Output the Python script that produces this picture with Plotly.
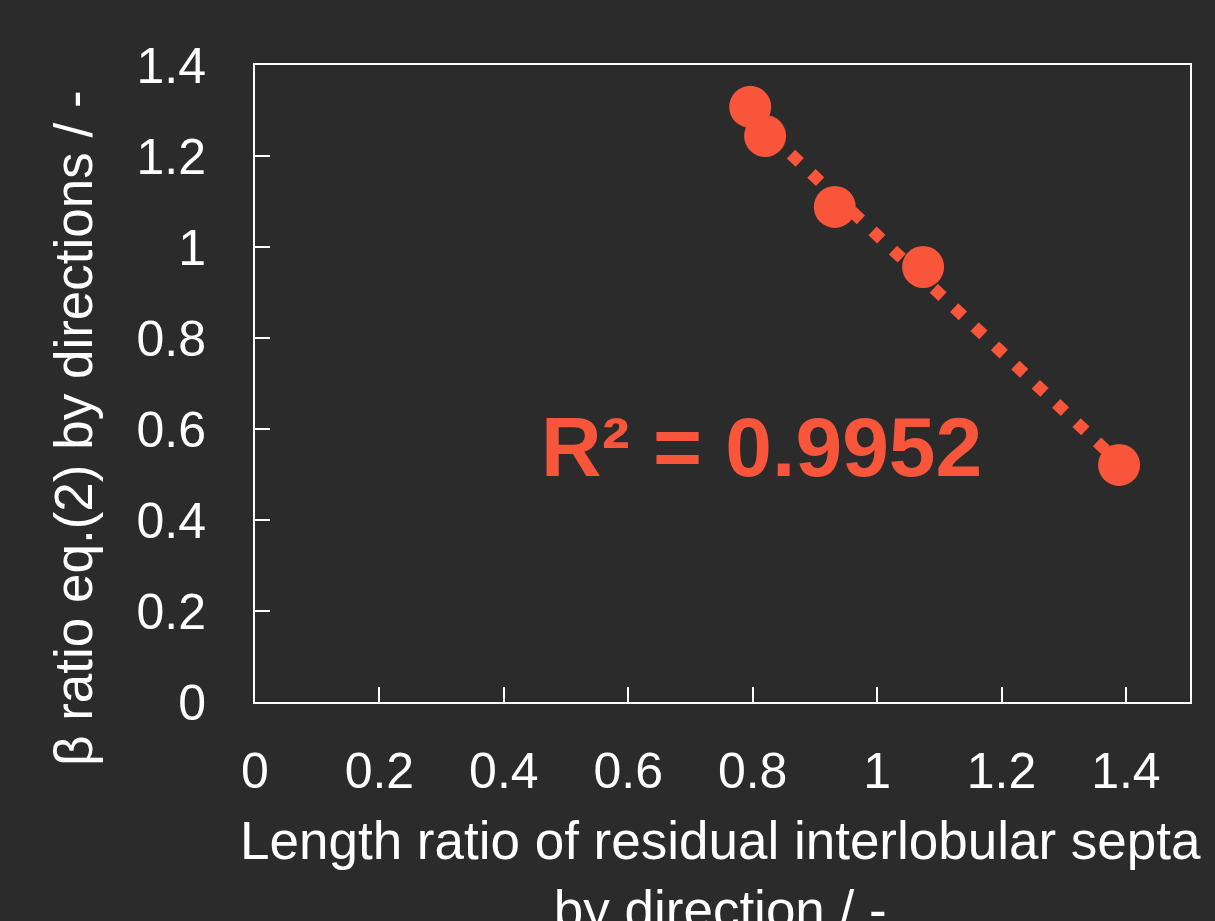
import numpy as np
import plotly.graph_objects as go

# Data
length_ratio = [0.796, 0.820, 0.932, 1.074, 1.389]
beta_ratio = [1.308, 1.244, 1.088, 0.956, 0.521]
r2_label = "R² = 0.9952"
x_ticks = [0, 0.2, 0.4, 0.6, 0.8, 1, 1.2, 1.4]
y_ticks = [0, 0.2, 0.4, 0.6, 0.8, 1, 1.2, 1.4]
x_title = "Length ratio of residual interlobular septa<br>by direction / -"
y_title = "β ratio eq.(2) by directions / -"

color = "#f9553a"
bg = "#2b2b2b"
font_family = "Liberation Sans, Arial, sans-serif"

W, H = 1215, 921
ML, MR, MT, MB = 255, 25, 65, 219
pw = W - ML - MR
ph = H - MT - MB


def px_to_paper_x(px):
    return (px - ML) / pw


def px_to_paper_y(py):
    return (H - MB - py) / ph


slope, intercept = np.polyfit(length_ratio, beta_ratio, 1)
trend_x = [min(length_ratio), max(length_ratio)]
trend_y = [slope * v + intercept for v in trend_x]

fig = go.Figure()
fig.add_trace(go.Scatter(x=trend_x, y=trend_y, mode="lines",
                         line=dict(color=color, width=12, dash="12px,16px"),
                         hoverinfo="skip", showlegend=False))
fig.add_trace(go.Scatter(x=length_ratio, y=beta_ratio, mode="markers",
                         marker=dict(color=color, size=42, line=dict(width=0)),
                         showlegend=False))

axis_common = dict(showgrid=False, zeroline=False, showline=True, linecolor="white",
                   linewidth=2, mirror=True, ticks="inside", ticklen=15, tickwidth=2,
                   tickcolor="white", tickfont=dict(size=50))

fig.update_layout(
    width=W, height=H,
    paper_bgcolor=bg, plot_bgcolor=bg,
    margin=dict(l=ML, r=MR, t=MT, b=MB),
    font=dict(family=font_family, color="white", size=48),
    xaxis=dict(range=[0, 1.503], tickvals=x_ticks, ticktext=[f"{v:g}" for v in x_ticks],
               ticklabelstandoff=24, **axis_common),
    yaxis=dict(range=[0, 1.4], tickvals=y_ticks, ticktext=[f"{v:g}" for v in y_ticks],
               ticklabelstandoff=37, **axis_common),
    annotations=[
        dict(text=r2_label, x=0.8135, y=0.56, xref="x", yref="y", showarrow=False,
             font=dict(size=84, color=color, family=font_family, weight="bold")),
        dict(text=x_title, x=px_to_paper_x(720), y=px_to_paper_y(875),
             xref="paper", yref="paper", xanchor="center", yanchor="middle",
             showarrow=False, font=dict(size=53, color="white")),
        dict(text=y_title, x=px_to_paper_x(73), y=px_to_paper_y(428),
             xref="paper", yref="paper", xanchor="center", yanchor="middle",
             textangle=-90, showarrow=False, font=dict(size=53, color="white")),
    ],
)

fig.write_html("out.html", config={"displayModeBar": False},
               post_script="document.body.style.margin='0px';")
